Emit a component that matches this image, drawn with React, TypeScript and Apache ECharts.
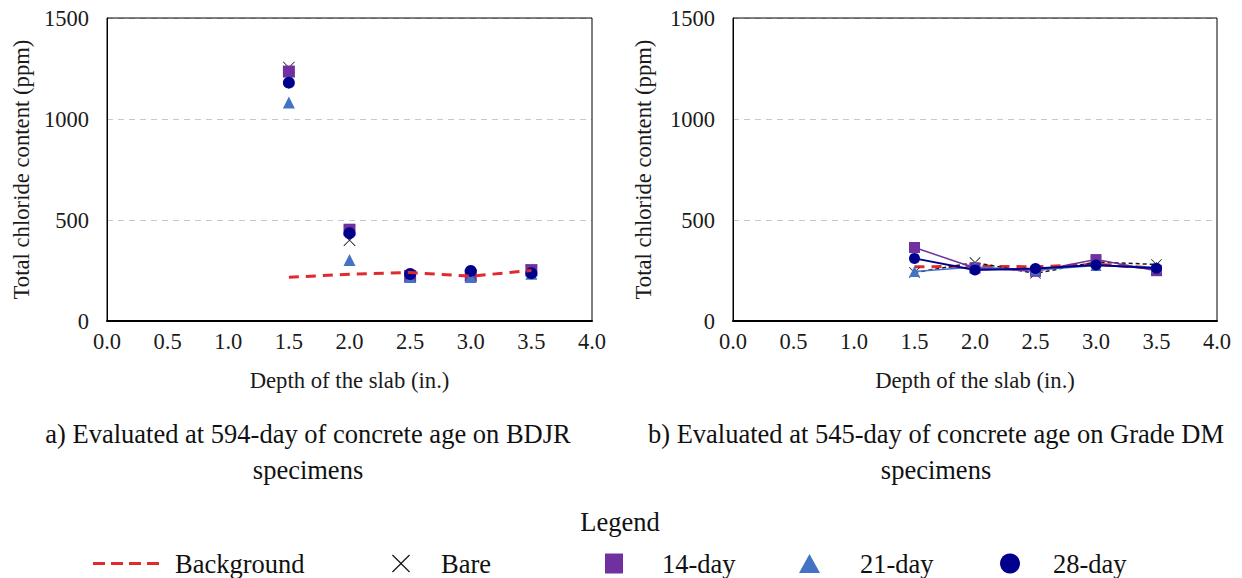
import React, { useEffect, useRef } from 'react';
import * as echarts from 'echarts';

const FONT = 'Liberation Serif';

// Depths (in.)
const depths = [1.5, 2.0, 2.5, 3.0, 3.5];

// Panel a) 594-day, BDJR specimens (ppm)
const bgA = [216, 232, 240, 222, 250];
const bareA = [1255, 400, 224, 226, 250];
const d14A = [1235, 452, 222, 224, 252];
const d21A = [1082, 302, 218, 218, 234];
const d28A = [1180, 435, 233, 248, 237];

// Panel b) 545-day, Grade DM specimens (ppm)
const bgB = [268, 272, 268, 281, 261];
const bareB = [240, 289, 236, 292, 280];
const d14B = [364, 262, 246, 304, 249];
const d21B = [245, 267, 252, 275, 266];
const d28B = [310, 252, 260, 277, 261];

const captionA = 'a) Evaluated at 594-day of concrete age on BDJR\nspecimens';
const captionB = 'b) Evaluated at 545-day of concrete age on Grade DM\nspecimens';
const yName = 'Total chloride content (ppm)';
const xName = 'Depth of the slab (in.)';

const RED = '#E02A2E';
const BARE = '#1a1a1a';
const PURPLE = '#7030A0';
const BLUE = '#4472C4';
const NAVY = '#00008C';
const X_PATH = 'path://M1,0L10,9L19,0L20,1L11,10L20,19L19,20L10,11L1,20L0,19L9,10L0,1Z';
const DASH_ICON = 'path://M0,0h12v3h-12zM18,0h12v3h-12zM36,0h12v3h-12zM54,0h12v3h-12z';

const mk = (vals: number[]) => depths.map((d, i) => [d, vals[i]]);

function App() {
  const ref = useRef<HTMLDivElement>(null);
  useEffect(() => {
    if (!ref.current) return;
    const chart = echarts.init(ref.current, null, { renderer: 'svg' });
    const labelStyle = { fontFamily: FONT, fontSize: 22.5, color: '#1a1a1a' };
    const nameStyle = { fontFamily: FONT, fontSize: 22.7, color: '#1a1a1a' };
    const mkX = (gridIndex: number) => ({
      type: 'value', gridIndex, min: 0, max: 4, interval: 0.5,
      axisLine: { show: true, lineStyle: { color: '#000', width: 2 } },
      axisTick: { show: false },
      splitLine: { show: false },
      axisLabel: { ...labelStyle, margin: 9, formatter: (v: number) => v.toFixed(1) },
      name: xName, nameLocation: 'middle', nameGap: 48,
      nameTextStyle: nameStyle,
    });
    const mkY = (gridIndex: number, gap: number) => ({
      type: 'value', gridIndex, min: 0, max: 1500, interval: 500,
      axisLine: { show: true, lineStyle: { color: '#000', width: 1 } },
      axisTick: { show: false },
      splitLine: { show: true, lineStyle: { color: '#c8c8c8', width: 1, type: [6, 5] } },
      axisLabel: { ...labelStyle, margin: 18, formatter: (v: number) => String(v) },
      name: yName, nameLocation: 'middle', nameGap: gap,
      nameTextStyle: nameStyle,
    });
    const scatter = (name: string, vals: number[], symbol: string, color: string) => ({
      name, type: 'scatter', xAxisIndex: 0, yAxisIndex: 0, data: mk(vals),
      symbol, symbolSize: 12, itemStyle: { color, opacity: 1 },
    });
    const line = (name: string, vals: number[], symbol: string, color: string, width: number, type: any) => ({
      name, type: 'line', xAxisIndex: 1, yAxisIndex: 1, data: mk(vals),
      symbol, symbolSize: 11, showSymbol: symbol !== 'none',
      lineStyle: { color, width, type, opacity: 1 }, itemStyle: { color, opacity: 1 },
    });
    const textStyle = { fontFamily: FONT, fontSize: 26.5, fontWeight: 'normal', color: '#111' };
    const legBase = { orient: 'horizontal', top: 550, padding: 0, selectedMode: false };
    const leg = (name: string, left: number, w: number, h: number, pad: number, icon?: string) => ({
      ...legBase, left, itemWidth: w, itemHeight: h,
      data: [icon ? { name, icon } : name],
      itemStyle: { opacity: 1 },
      textStyle: { ...textStyle, padding: [0, 0, 0, pad] },
    });
    chart.setOption({
      animation: false,
      backgroundColor: '#fff',
      textStyle: { fontFamily: FONT },
      title: [
        { text: captionA, left: 308, top: 416, textAlign: 'center', padding: 0, textStyle: { ...textStyle, lineHeight: 36 } },
        { text: captionB, left: 936, top: 416, textAlign: 'center', padding: 0, textStyle: { ...textStyle, lineHeight: 36 } },
        { text: 'Legend', left: 620, top: 508, textAlign: 'center', padding: 0, textStyle },
      ],
      legend: [
        leg('Background', 93, 66, 3, 11, DASH_ICON),
        leg('Bare', 392, 18, 18, 26),
        leg('14-day', 605, 18, 20, 34),
        leg('21-day', 799, 21, 19, 35),
        leg('28-day', 1000, 20, 21, 28),
      ],
      grid: [
        { left: 107, top: 18, width: 485, height: 303, show: true, borderColor: '#000', borderWidth: 1, backgroundColor: 'transparent', z: 1 },
        { left: 733, top: 18, width: 484, height: 303, show: true, borderColor: '#000', borderWidth: 1, backgroundColor: 'transparent', z: 1 },
      ],
      xAxis: [mkX(0), mkX(1)],
      yAxis: [mkY(0, 74), mkY(1, 78)],
      series: [
        { name: 'Background', type: 'line', xAxisIndex: 0, yAxisIndex: 0, data: mk(bgA), symbol: 'none',
          lineStyle: { color: RED, width: 3, type: [10, 7] }, itemStyle: { color: RED } },
        scatter('Bare', bareA, X_PATH, BARE),
        scatter('14-day', d14A, 'rect', PURPLE),
        scatter('21-day', d21A, 'triangle', BLUE),
        scatter('28-day', d28A, 'circle', NAVY),
        line('Background', bgB, 'none', RED, 3, [10, 7]),
        line('Bare', bareB, X_PATH, BARE, 1.5, [4, 3]),
        line('14-day', d14B, 'rect', PURPLE, 1.5, 'solid'),
        line('21-day', d21B, 'triangle', BLUE, 1.5, 'solid'),
        line('28-day', d28B, 'circle', NAVY, 2, 'solid'),
      ],
    });
    return () => chart.dispose();
  }, []);
  return <div ref={ref} style={{ position: 'absolute', left: 0, top: 0, width: 1242, height: 578 }} />;
}

export default App;
